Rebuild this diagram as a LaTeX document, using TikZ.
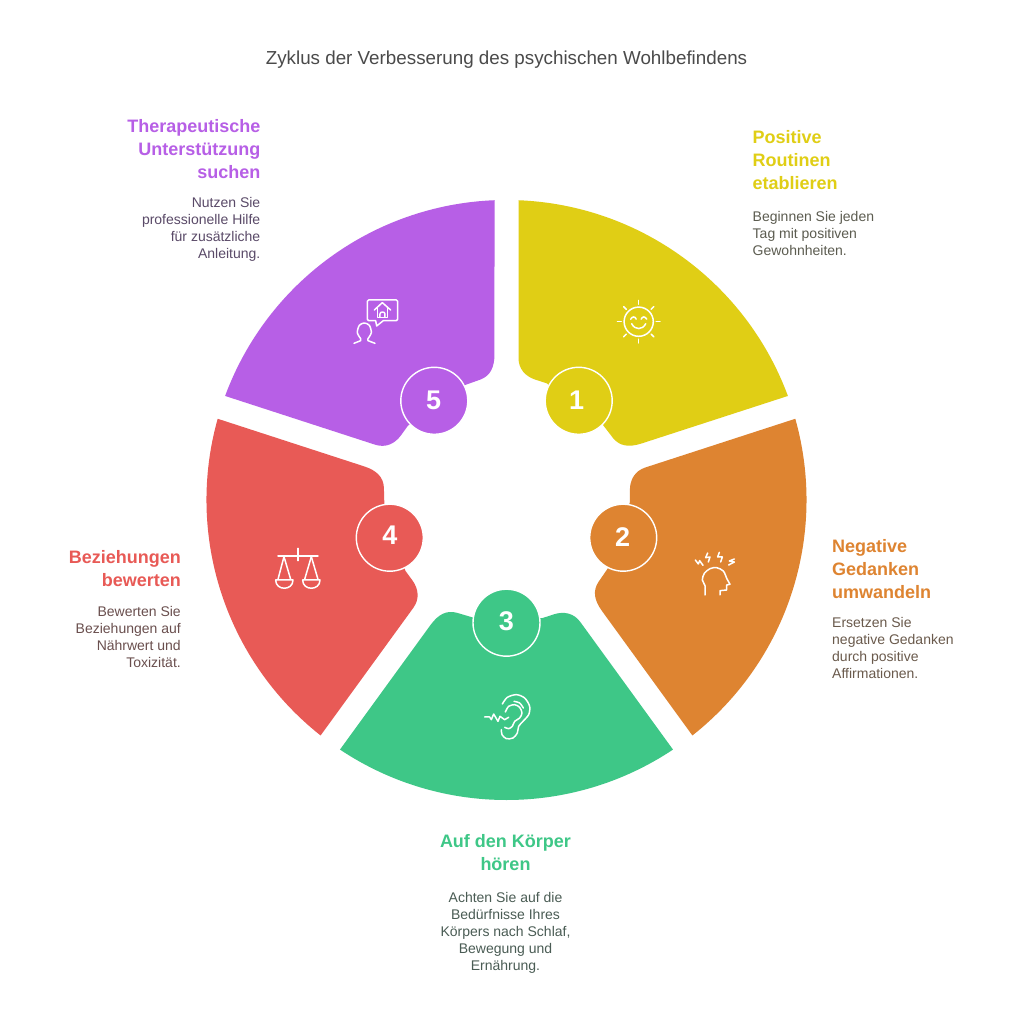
\documentclass[tikz,border=0pt]{standalone}
\usepackage{fontspec}
\setmainfont{Liberation Sans}
\definecolor{cyel}{HTML}{E0CE15}
\definecolor{cora}{HTML}{DE8431}
\definecolor{cgre}{HTML}{3EC787}
\definecolor{cred}{HTML}{E85A56}
\definecolor{cpur}{HTML}{B75FE6}
\definecolor{tyel}{HTML}{5C5C50}
\definecolor{tora}{HTML}{6A5A4C}
\definecolor{tgre}{HTML}{4A5C54}
\definecolor{tred}{HTML}{6A4F4E}
\definecolor{tpur}{HTML}{5A4A68}
\definecolor{ttitle}{HTML}{4A4A4A}
\newcommand{\sector}[2]{%
  \fill[#1,rotate=#2] (12,299.76) arc[start angle=87.71,end angle=20.29,radius=300]
    -- (135,56.5) .. controls (122,52.3) and (113,54) .. (106.5,62) -- (96.5,75)
    -- (40.2,116.7) -- (29,120.3) .. controls (19,123.5) and (12,131) .. (12,142) -- cycle;}
\tikzset{
  x=1pt,y=1pt,
  hub/.style={circle,draw=white,line width=1.4pt,minimum size=67pt,inner sep=0pt},
  num/.style={font=\fontsize{27}{27}\selectfont\bfseries,text=white,anchor=base,inner sep=0pt},
  head/.style={font=\fontsize{18}{23}\selectfont\bfseries,inner sep=0pt},
  body/.style={font=\fontsize{14}{17}\selectfont,inner sep=0pt},
  ico/.style={draw=white,line width=1.5pt,line cap=round,line join=round},
  zoomed/.style={shift={(#1)},x=0.3333pt,y=-0.3333pt}
}
\begin{document}
\begin{tikzpicture}
\useasboundingbox (-506.5,-524) rectangle (506.5,500);
\fill[white] (-506.5,-524) rectangle (506.5,500);
\node[font=\fontsize{18.8}{22}\selectfont,text=ttitle,inner sep=0pt,anchor=base] (title) at (0,435.7) {Zyklus der Verbesserung des psychischen Wohlbefindens};
% sectors
\sector{cyel}{0}
\sector{cora}{-72}
\sector{cgre}{-144}
\sector{cred}{-216}
\sector{cpur}{-288}
% hubs
\node[hub,fill=cyel] (h1) at (72.2,99.2) {};
\node[hub,fill=cora] (h2) at (116.7,-37.7) {};
\node[hub,fill=cgre] (h3) at (0,-122.7) {};
\node[hub,fill=cred] (h4) at (-116.7,-37.7) {};
\node[hub,fill=cpur] (h5) at (-72.2,99.2) {};
\node[num] (n1) at (70.2,90.5) {1};
\node[num] (n2) at (116.2,-46.7) {2};
\node[num] (n3) at (-0.2,-130) {3};
\node[num] (n4) at (-116.5,-44.3) {4};
\node[num] (n5) at (-72.8,90.7) {5};
% headings and bodies
\node[head,text=cyel,align=left,anchor=north west] (t1) at (246,370) {Positive\\Routinen\\etablieren};
\node[body,text=tyel,align=left,anchor=north west] (b1) at (246,289) {Beginnen Sie jeden\\Tag mit positiven\\Gewohnheiten.};
\node[head,text=cora,align=left,anchor=north west] (t2) at (325.5,-39) {Negative\\Gedanken\\umwandeln};
\node[body,text=tora,align=left,anchor=north west] (b2) at (325.5,-117) {Ersetzen Sie\\negative Gedanken\\durch positive\\Affirmationen.};
\node[head,text=cgre,align=center,anchor=north] (t3) at (-1,-334) {Auf den Körper\\hören};
\node[body,text=tgre,align=center,anchor=north] (b3) at (-1,-392) {Achten Sie auf die\\Bedürfnisse Ihres\\Körpers nach Schlaf,\\Bewegung und\\Ernährung.};
\node[head,text=cred,align=right,anchor=north east] (t4) at (-325.5,-50.5) {Beziehungen\\bewerten};
\node[body,text=tred,align=right,anchor=north east] (b4) at (-325.5,-106) {Bewerten Sie\\Beziehungen auf\\Nährwert und\\Toxizität.};
\node[head,text=cpur,align=right,anchor=north east] (t5) at (-246,381) {Therapeutische\\Unterstützung\\suchen};
\node[body,text=tpur,align=right,anchor=north east] (b5) at (-246,303) {Nutzen Sie\\professionelle Hilfe\\für zusätzliche\\Anleitung.};
% sun
\begin{scope}[shift={(132.2,178.3)}]
  \draw[ico] (0,0) circle[radius=14.6];
  \foreach \a in {0,45,...,315}{\draw[ico] (\a:17.5) -- (\a:21.3);}
  \draw[ico] (-8,2.5) .. controls (-6.5,5.5) and (-3.5,5.5) .. (-2.5,2.5);
  \draw[ico] (8,2.5) .. controls (6.5,5.5) and (3.5,5.5) .. (2.5,2.5);
  \draw[ico] (-7,-2) .. controls (-4,-8.5) and (4,-8.5) .. (7,-2);
\end{scope}
% person and home
\begin{scope}[zoomed={-166.5,210}]
  \draw[ico] (86,30) -- (169,30) .. controls (171,30) and (173,32) .. (173,34) -- (173,88) .. controls (173,90) and (171,92) .. (169,92) -- (130,92) -- (110,108) -- (107,92) -- (86,92) .. controls (84,92) and (82,90) .. (82,88) -- (82,34) .. controls (82,32) and (84,30) .. (86,30) -- cycle;
  \draw[ico] (103,60) -- (127,38) -- (152,60);
  \draw[ico] (112,54) -- (112,82) -- (143,82) -- (143,54);
  \draw[ico] (120,82) -- (120,72) .. controls (120,64) and (135,64) .. (135,72) -- (135,82);
  \draw[ico] (42,160) -- (62,152) -- (62,146) plot[smooth] coordinates {(62,146) (52,128) (58,106) (73,99) (88,106) (94,128) (84,146)} -- (84,152) -- (105,160);
\end{scope}
% head with bolts
\begin{scope}[zoomed={178.5,-45}]
  \draw[ico] (31,45) -- (40,57) -- (44,47) -- (54,61);
  \draw[ico] (68,24) -- (62,38) -- (75,36) -- (70,51);
  \draw[ico] (103,22) -- (98,36) -- (112,36) -- (107,51);
  \draw[ico] (148,42) -- (133,48) -- (148,51) -- (131,60);
  \draw[ico] plot[smooth] coordinates {(60,150) (60,122) (52,105) (58,85) (75,71) (95,68) (115,78) (125,100)} -- (135,118) -- (125,120) -- (125,135) -- (105,137) -- (105,150);
\end{scope}
% ear
\begin{scope}[zoomed={-28.5,-188}]
  \draw[ico] plot[smooth] coordinates {(73,48) (88,28) (115,20) (140,30) (155,55) (152,80) (135,100) (122,115) (118,135) (105,150) (85,152) (72,140) (70,125)};
  \draw[ico] plot[smooth] coordinates {(82,72) (92,55) (110,50) (125,58) (132,75) (125,90) (110,100) (103,115) (92,122) (80,118)};
  \draw[ico] plot[smooth] coordinates {(108,40) (125,45) (136,60)};
  \draw[ico] (20,87) -- (35,87) -- (40,95) -- (47,78) -- (60,100) -- (66,85) -- (80,95) -- (92,88);
\end{scope}
% scales
\begin{scope}[zoomed={-238.5,-40}]
  \draw[ico] (30,48) -- (150,48);
  \draw[ico] (90,25) -- (90,62);
  \draw[ico] (48,50) -- (30,118);
  \draw[ico] (48,50) -- (68,118);
  \draw[ico] (130,50) -- (110,118);
  \draw[ico] (130,50) -- (150,118);
  \draw[ico] (23,120) -- (75,120) .. controls (75,153) and (23,153) .. (23,120) -- cycle;
  \draw[ico] (104,120) -- (156,120) .. controls (156,153) and (104,153) .. (104,120) -- cycle;
\end{scope}
\end{tikzpicture}
\end{document}
